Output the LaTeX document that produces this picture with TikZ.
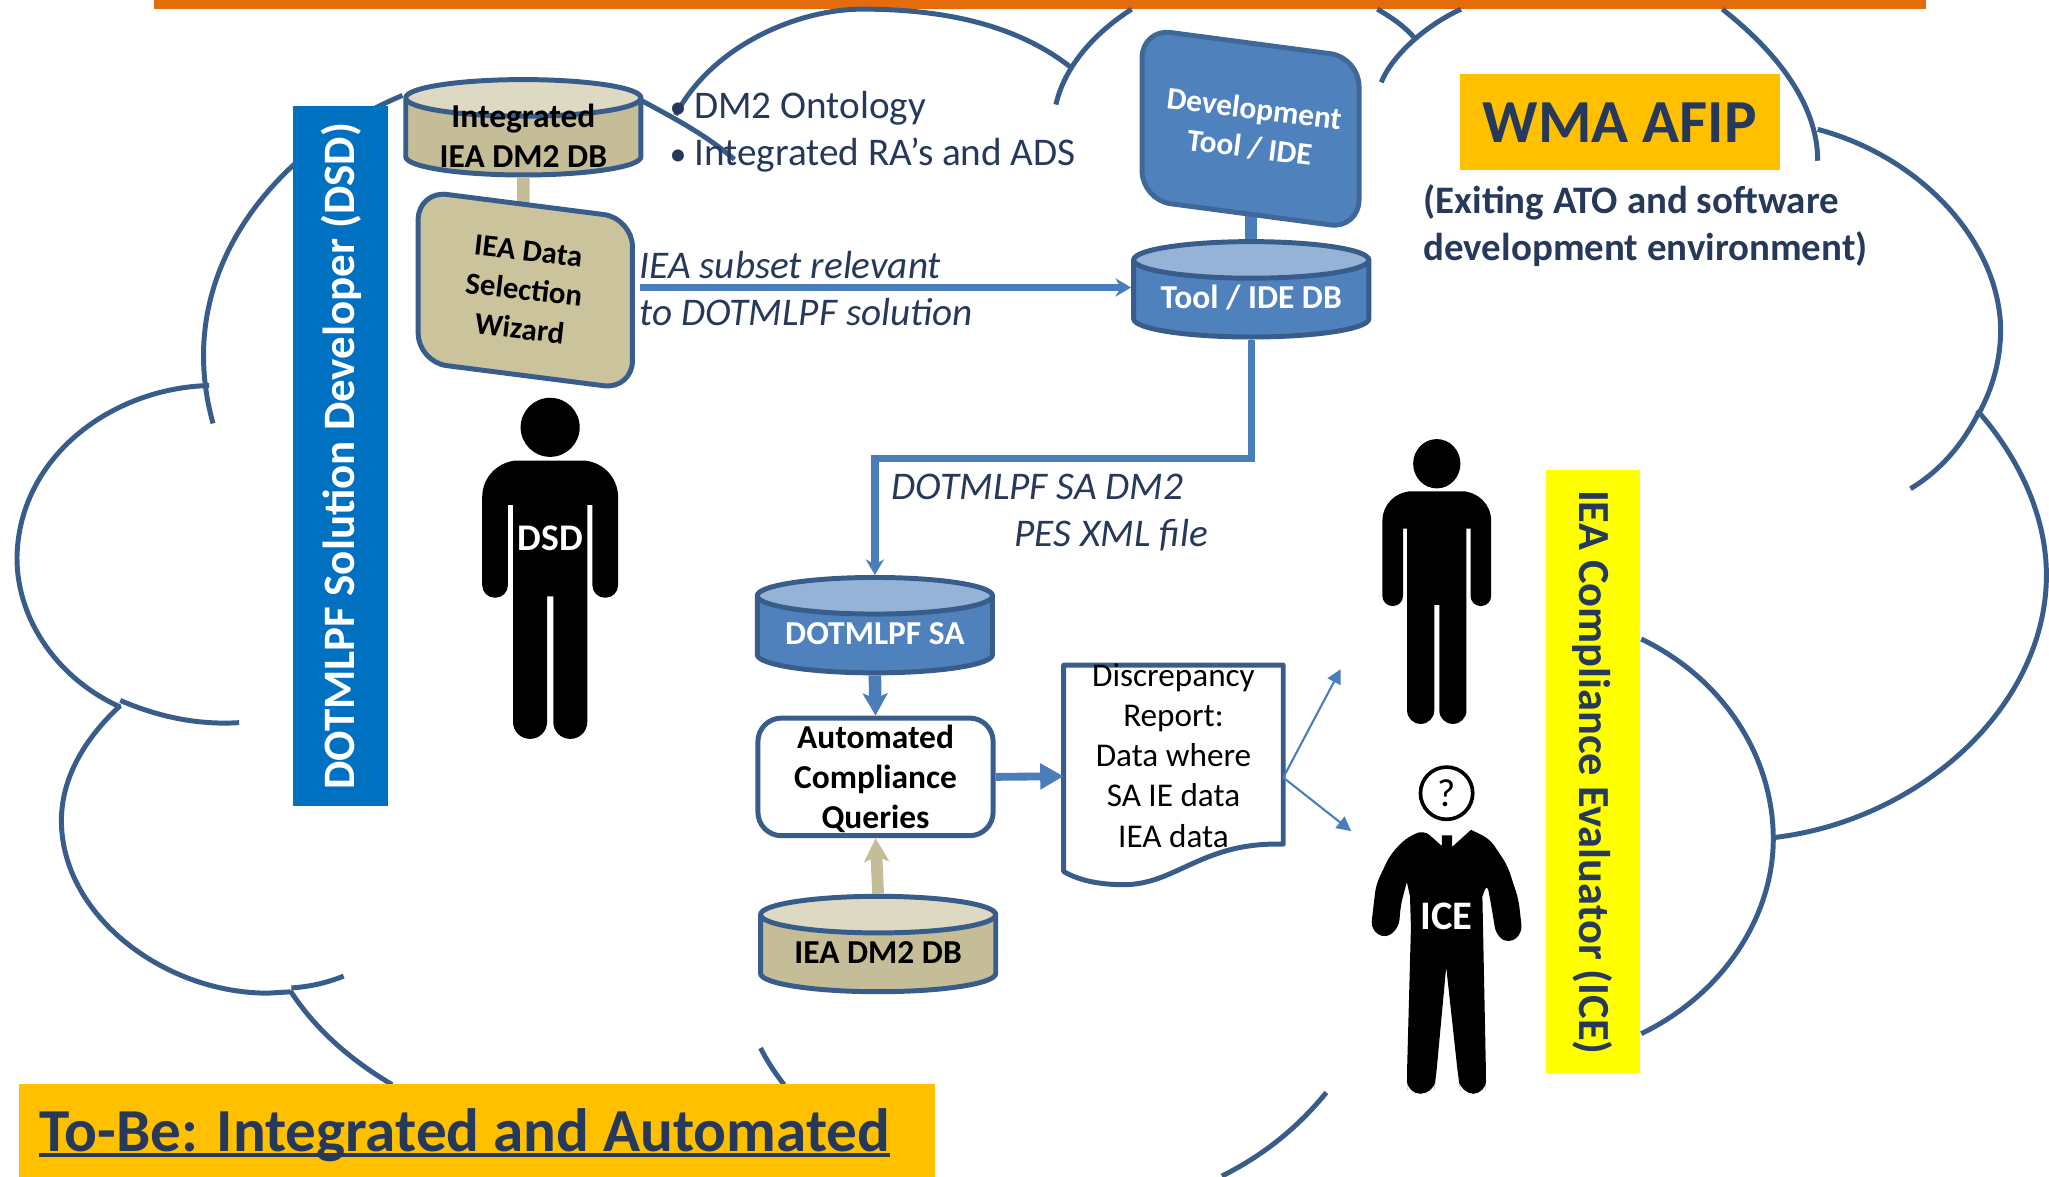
\documentclass[tikz,border=0pt]{standalone}
\usepackage{fontspec}
\setmainfont{Carlito}
\usetikzlibrary{arrows.meta,shapes.geometric,calc}
\definecolor{edgeblue}{HTML}{385D8A}
\definecolor{fillblue}{HTML}{4F81BD}
\definecolor{topblue}{HTML}{95B3D7}
\definecolor{linkblue}{HTML}{4A7EBB}
\definecolor{filltan}{HTML}{C4BD97}
\definecolor{toptan}{HTML}{DDD9C3}
\definecolor{wiztan}{HTML}{CBC39B}
\definecolor{inkblue}{HTML}{26395A}
\definecolor{barorange}{HTML}{E46C0A}
\definecolor{gold}{HTML}{FFC000}
\definecolor{roleblue}{HTML}{0070C0}
\definecolor{roleyellow}{HTML}{FFFF00}
\newcommand{\dbgap}{\phantom{\rule{70pt}{10pt}}}
\tikzset{
	pics/person/.style={code={
		\fill (0,22.6) circle [radius=22.6];
		\fill (0,48) [rounded corners=#1*14pt] -- (52,48) [rounded corners=#1*4.8pt] -- (52,153) -- (32.3,153) [sharp corners] -- (32.3,82) -- (28.4,82) [rounded corners=#1*6.4pt] -- (28.4,261) -- (2.4,261) [sharp corners] -- (2.4,152) -- (-2.4,152) [rounded corners=#1*6.4pt] -- (-2.4,261) -- (-28.4,261) [sharp corners] -- (-28.4,82) -- (-32.3,82) [rounded corners=#1*4.8pt] -- (-32.3,153) -- (-52,153) [rounded corners=#1*14pt] -- (-52,48) -- cycle;
	}}
}
\begin{document}
\begin{tikzpicture}[x=.5pt,y=-.5pt,
	arc/.style={draw=edgeblue,line width=1.9pt},
	db/.style={cylinder,shape border rotate=90,shape aspect=.2,draw=edgeblue,line width=1.9pt,minimum width=90pt,minimum height=36.5pt,inner sep=0pt,cylinder uses custom fill,anchor=north},
	dbblue/.style={db,cylinder body fill=fillblue,cylinder end fill=topblue},
	dbtan/.style={db,cylinder body fill=filltan,cylinder end fill=toptan},
	boldtext/.style={inner sep=0pt,align=center,font=\fontsize{12.8}{15.2}\selectfont\bfseries},
	link/.style={draw=linkblue,line width=2.8pt},
	thin link/.style={draw=linkblue,line width=.8pt,-{Triangle[length=5.5pt,width=5.5pt]}},
	note/.style={text=inkblue,font=\fontsize{15}{18}\selectfont,align=left,inner sep=0pt},
	report text/.style={font=\fontsize{12.7}{15.4}\selectfont,align=center,inner sep=0pt},
	white tag/.style={text=white,font=\fontsize{14.4}{15}\selectfont\bfseries,inner sep=0pt},
	]
	\useasboundingbox (0,0) rectangle (1568,900);
	\fill[barorange] (118,0) rectangle (1474,7);

	\draw[arc] (308,73) .. controls (215,112) and (130,205) .. (163,324);
	\draw[arc] (160,295) .. controls (85,297) and (14,350) .. (13,427) .. controls (13,475) and (45,520) .. (92,541);
	\draw[arc] (92,536) .. controls (120,548) and (150,555) .. (183,553);
	\draw[arc] (92,540) .. controls (65,565) and (47,595) .. (47,628) .. controls (47,700) and (125,760) .. (205,760) -- (222,759);
	\draw[arc] (223,756) .. controls (238,755) and (250,752) .. (263,747);
	\draw[arc] (222,758) .. controls (243,790) and (270,812) .. (300,830);
	\draw[arc] (582,802) .. controls (587,812) and (593,821) .. (600,830);
	\draw[arc] (1015,836) .. controls (993,863) and (967,884) .. (935,900);
	\draw[arc] (1256,489) .. controls (1320,520) and (1357,580) .. (1357,642) .. controls (1357,700) and (1320,760) .. (1256,791);
	\draw[arc] (1357,641) .. controls (1470,628) and (1566,540) .. (1566,440) .. controls (1566,395) and (1545,350) .. (1513,314);
	\draw[arc] (1462,374) .. controls (1485,360) and (1502,340) .. (1514,316);
	\draw[arc] (1391,99) .. controls (1470,120) and (1530,185) .. (1531,252) .. controls (1531,275) and (1525,297) .. (1514,317);
	\draw[arc] (1391,123) .. controls (1391,80) and (1360,40) .. (1318,7);
	\draw[arc] (1057,63) .. controls (1065,43) and (1090,20) .. (1118,7);
	\draw[arc] (1054,7) .. controls (1066,14) and (1076,21) .. (1084,31);
	\draw[arc] (808,80) .. controls (815,50) and (838,25) .. (866,7);
	\draw[arc] (517,88) .. controls (545,35) and (610,7) .. (660,7) .. controls (725,7) and (780,20) .. (820,52);
	\draw[arc] (491,77) .. controls (515,90) and (540,103) .. (562,122);

	\fill[roleblue] (224,81) rectangle (297,617);
	\node (dsdrole) [rotate=90,text=white,inner sep=0pt,font=\fontsize{17.2}{18}\selectfont\bfseries] at (261,349) {DOTMLPF Solution Developer (DSD)};
	\fill[roleyellow] (1183,360) rectangle (1255,821);
	\node (icerole) [rotate=-90,text=inkblue,inner sep=0pt,font=\fontsize{17}{18}\selectfont\bfseries] at (1219,591) {IEA Compliance Evaluator (ICE)};

	\node (db1) [dbtan] at (400.5,59) {\dbgap};
	\node (db1text) [boldtext] at ($(db1.south)+(0,-32)$) {Integrated\\IEA DM2 DB};
	\coordinate (wiztop) at (400.5,165);
	\draw[draw=filltan,line width=4.8pt] (db1.south) -- (wiztop);
	\draw[fill=wiztan,draw=edgeblue,line width=1.9pt,rounded corners=11pt] (320,146) -- (484,167) -- (484,298) -- (320,277) -- cycle;
	\node (wiz) [rotate=-6.5,boldtext,font=\fontsize{11.8}{15}\selectfont\bfseries] at (401,222) {IEA Data\\Selection\\Wizard};

	\node (db2) [dbblue] at (957.5,183) {\dbgap};
	\node (db2text) [boldtext,text=white] at ($(db2.south)+(0,-32)$) {Tool / IDE DB};
	\coordinate (devbot) at (957.5,160);
	\draw[link,line width=4.5pt] (devbot) -- (db2.north);
	\draw[fill=fillblue,draw=edgeblue!70!fillblue,line width=1.9pt,rounded corners=11pt] (874,22) -- (1040,44) -- (1040,175) -- (874,153) -- cycle;
	\node (dev) [rotate=-7,boldtext,text=white,font=\fontsize{12}{15}\selectfont\bfseries] at (958,98) {Development\\Tool / IDE};

	\node (db3) [dbblue] at (669.5,440) {\dbgap};
	\node (db3text) [boldtext,text=white] at ($(db3.south)+(0,-32)$) {DOTMLPF SA};
	\node (db4) [dbtan] at (672,684) {\dbgap};
	\node (db4text) [boldtext] at ($(db4.south)+(0,-32)$) {IEA DM2 DB};
	\node (acq) [draw=edgeblue,fill=white,line width=1.9pt,rounded corners=9pt,minimum width=90pt,minimum height=45pt,inner sep=0pt] at (670,594.5) {};
	\node (acqtext) [boldtext,font=\fontsize{12.8}{15.4}\selectfont\bfseries] at (670,596) {Automated\\Compliance\\Queries};

	\draw[link,-{Stealth[length=6pt,width=7pt,inset=2pt]}] (db2.south) -- ++(0,91) -| (db3.north);
	\draw[link,-{Stealth[length=6pt,width=7pt,inset=2pt]}] (490,220) coordinate (subset) -- (db2.west |- subset);
	\draw[link,line width=4.8pt,-{Stealth[length=8.5pt,width=9.5pt,inset=2pt]}] (db3.south) -- (acq.north);
	\draw[draw=filltan,line width=4.5pt,-{Stealth[length=9pt,width=9.5pt,inset=2pt]}] (db4.north) -- (acq.south);

	\draw[fill=white,draw=edgeblue,line width=1.9pt,line join=round] (814,509) -- (982,509) -- (982,646) .. controls (920,644) and (900,677) .. (860,677) .. controls (845,677) and (828,675) .. (814,667) -- cycle;
	\node (rep) [report text] at (898,578) {Discrepancy\\Report:\\Data where\\SA IE data\\IEA data};
	\coordinate (repright) at (982,595);
	\coordinate (repleft) at (814,594);
	\coordinate (up) at (1026,512);
	\coordinate (down) at (1034,636);
	\draw[link,line width=3pt,-{Triangle[length=9pt,width=9.5pt]}] (acq.east) -- (repleft);
	\draw[thin link] (repright) -- (up);
	\draw[thin link] (repright) -- (down);

	\node (bul1) [note,anchor=west] at (512,83) {\fontsize{13}{18}\selectfont•\hspace{3pt}\fontsize{15}{18}\selectfont DM2 Ontology};
	\node (bul2) [note,anchor=west] at (512,119) {\fontsize{13}{18}\selectfont•\hspace{3pt}\fontsize{15}{18}\selectfont Integrated RA’s and ADS};
	\node (iea) [note,anchor=west,font=\fontsize{15}{18}\selectfont\itshape] at (489,221) {IEA subset relevant\\to DOTMLPF solution};
	\node (pes) [note,anchor=west,font=\fontsize{15}{18}\selectfont\itshape] at (682,392) {DOTMLPF SA DM2\\\hspace*{47pt}PES XML file};

	\node (afip) [fill=gold,text=inkblue,minimum width=122.5pt,minimum height=36.5pt,inner sep=0pt,font=\fontsize{23.4}{26}\selectfont\bfseries] at (1239.5,93.5) {WMA AFIP};
	\node (ato) [note,anchor=west,font=\fontsize{14.9}{18}\selectfont\bfseries] at (1089,173) {(Exiting ATO and software\\development environment)};
	\node (tobe) [fill=gold,minimum width=350.5pt,minimum height=35.5pt,inner sep=0pt,anchor=north west] at (14,829) {};
	\node (title) [text=inkblue,inner sep=0pt,anchor=base west,font=\fontsize{23.4}{26}\selectfont\bfseries] at (30,881) {To-Be: Integrated and Automated};
	\draw[draw=inkblue,line width=1.7pt] ($(title.base west)+(0,3)$) -- ($(title.base east)+(0,3)$);

	\pic at (421,304.4) {person=1};
	\node (dsd) [white tag] at (421,412) {DSD};
	\pic[xscale=.8,yscale=.835] at (1099.5,336) {person=.8};

	\node (q) [circle,draw=black,fill=white,line width=1.4pt,minimum size=20pt,inner sep=0pt,font=\fontsize{15}{15}\selectfont] at (1107,607) {?};
	\fill[line join=round] (1089.4,635) -- (1103.3,647.3) -- (1103.3,639.2) -- (1111.2,639.2) -- (1111.2,648.1) -- (1125.7,635) [rounded corners=3pt] -- (1140,642) -- (1153.4,662) -- (1162,688) -- (1165,714) -- (1155,722) -- (1145,716) -- (1141,692) -- (1138,676) [sharp corners] -- (1134.4,686) [rounded corners=5pt] -- (1137.2,825) -- (1137,837) -- (1118,837) -- (1116,825) [sharp corners] -- (1106.7,740) [rounded corners=5pt] -- (1098.8,825) -- (1097,837) -- (1077,837) -- (1076.6,825) [sharp corners] -- (1079.7,710) -- (1079,686) -- (1076.6,675) [rounded corners=3pt] -- (1072,692) -- (1070.4,710) -- (1060,718.4) -- (1049,711) -- (1053,677) -- (1063.5,654.7) -- (1075,642) -- cycle;
	\node (ice) [white tag,font=\fontsize{15.5}{15}\selectfont\bfseries] at (1107,701) {ICE};
\end{tikzpicture}
\end{document}
